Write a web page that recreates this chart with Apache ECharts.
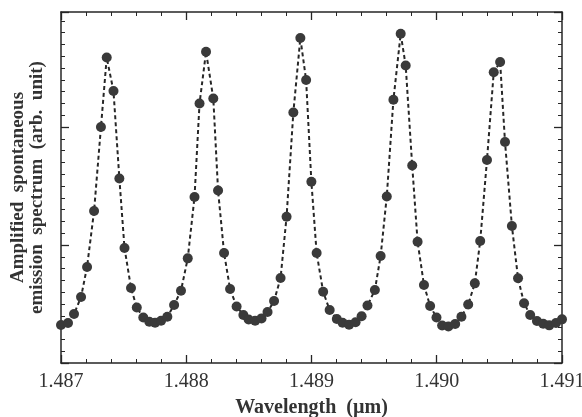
<!DOCTYPE html>
<html>
<head>
<meta charset="utf-8">
<script src="https://cdn.jsdelivr.net/npm/echarts@6/dist/echarts.min.js"></script>
<style>
  html, body { margin: 0; padding: 0; background: #fff; }
  #chart { width: 582px; height: 417px; }
</style>
</head>
<body>
<div id="chart"></div>
<script>
var wavelength = [
  1.48700, 1.487056, 1.487104, 1.487160, 1.487208, 1.487264, 1.487319, 1.487365, 1.487419, 1.487466,
  1.487507, 1.487559, 1.487605, 1.487657, 1.487705, 1.487751, 1.487799, 1.487849, 1.487903, 1.487958,
  1.488012, 1.488066, 1.488106, 1.488158, 1.488216, 1.488254, 1.488302, 1.488350, 1.488402, 1.488456,
  1.488498, 1.488550, 1.488601, 1.488649, 1.488701, 1.488753, 1.488801, 1.488855, 1.488911, 1.488957,
  1.488999, 1.489041, 1.489093, 1.489145, 1.489202, 1.489248, 1.489300, 1.489352, 1.489400, 1.489447,
  1.489506, 1.489552, 1.489601, 1.489654, 1.489712, 1.489752, 1.489804, 1.489847, 1.489898, 1.489947,
  1.489998, 1.490043, 1.490093, 1.490147, 1.490197, 1.490251, 1.490304, 1.490347, 1.490401, 1.490455,
  1.490506, 1.490545, 1.490600, 1.490649, 1.490697, 1.490746, 1.490800, 1.490850, 1.490898, 1.490952,
  1.49100
];

// ASE intensity, arbitrary units (one major tick = 1)
var intensity = [
  0.322, 0.339, 0.415, 0.559, 0.814, 1.288, 2.000, 2.589, 2.305, 1.564,
  0.975, 0.636, 0.470, 0.386, 0.350, 0.342, 0.358, 0.392, 0.492, 0.613,
  0.887, 1.407, 2.199, 2.638, 2.242, 1.462, 0.932, 0.627, 0.479, 0.407,
  0.369, 0.358, 0.378, 0.432, 0.525, 0.720, 1.240, 2.123, 2.754, 2.398,
  1.536, 0.932, 0.604, 0.449, 0.373, 0.341, 0.325, 0.345, 0.396, 0.487,
  0.619, 0.907, 1.411, 2.231, 2.790, 2.521, 1.674, 1.028, 0.661, 0.483,
  0.386, 0.318, 0.309, 0.331, 0.392, 0.496, 0.675, 1.034, 1.720, 2.464,
  2.551, 1.873, 1.161, 0.718, 0.506, 0.407, 0.356, 0.333, 0.319, 0.339,
  0.370
];

var xTicks = ['1.487', '1.488', '1.489', '1.490', '1.491'];

var ink = '#262626';
var serif = '"Liberation Serif", "DejaVu Serif", serif';

var points = wavelength.map(function (w, i) { return [w, intensity[i]]; });

// frame axes: ticks drawn inward on every side, labels only on bottom
function frameAxis(extra) {
  return Object.assign({
    type: 'value',
    axisLine: { show: true, onZero: false, lineStyle: { color: ink, width: 1.5 } },
    axisTick: { show: true, inside: true, length: 8, lineStyle: { color: ink, width: 1.3 } },
    minorTick: { show: true, length: 4, lineStyle: { color: ink, width: 1 } },
    splitLine: { show: false },
    axisLabel: { show: false },
  }, extra);
}

var xRange = { min: 1.487, max: 1.491, interval: 0.001 };
var yRange = { min: 0, max: 2.975, interval: 1 };

var option = {
  animation: false,
  backgroundColor: '#fff',
  grid: { left: 61, right: 20, top: 12, bottom: 54, containLabel: false, outerBoundsMode: 'none' },
  xAxis: [
    frameAxis(Object.assign({
      position: 'bottom',
      minorTick: { show: true, splitNumber: 5, length: 4, lineStyle: { color: ink, width: 1 } },
      axisLabel: {
        show: true, margin: 9, color: '#333',
        fontFamily: serif, fontSize: 20,
        formatter: function (v) {
          var s = v.toFixed(3);
          return xTicks.indexOf(s) >= 0 ? s : '';
        },
      },
      name: 'Wavelength  (\u00b5m)',
      nameLocation: 'middle',
      nameGap: 35,
      nameTextStyle: { color: '#333', fontFamily: serif, fontSize: 20, fontWeight: 'bold' },
    }, xRange)),
    frameAxis(Object.assign({
      position: 'top',
      minorTick: { show: true, splitNumber: 5, length: 4, lineStyle: { color: ink, width: 1 } },
    }, xRange)),
  ],
  yAxis: [
    frameAxis(Object.assign({
      position: 'left',
      minorTick: { show: true, splitNumber: 10, length: 4, lineStyle: { color: ink, width: 1 } },
      name: 'Amplified  spontaneous\nemission  spectrum  (arb.  unit)',
      nameLocation: 'middle',
      nameRotate: 90,
      nameGap: 14,
      nameTextStyle: {
        color: '#333', fontFamily: serif, fontSize: 19, fontWeight: 'bold', lineHeight: 19,
      },
    }, yRange)),
    frameAxis(Object.assign({
      position: 'right',
      minorTick: { show: true, splitNumber: 10, length: 4, lineStyle: { color: ink, width: 1 } },
    }, yRange)),
  ],
  series: [{
    type: 'line',
    data: points,
    symbol: 'circle',
    symbolSize: 10,
    showAllSymbol: true,
    itemStyle: { color: '#3a3a3a' },
    lineStyle: { color: ink, width: 2, type: [4, 3] },
    z: 3,
  }],
};

var chart = echarts.init(document.getElementById('chart'), null, { renderer: 'canvas' });
chart.setOption(option);
</script>
</body>
</html>
